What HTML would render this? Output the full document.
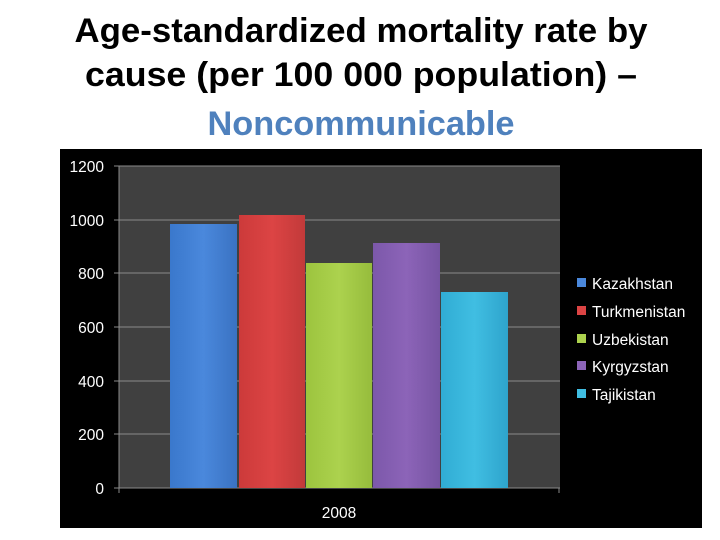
<!DOCTYPE html>
<html><head><style>body{margin:0;background:#fff}svg{display:block}</style></head><body>
<svg width="720" height="540" xmlns="http://www.w3.org/2000/svg" font-family="Liberation Sans, sans-serif">
<defs>
<linearGradient id="b" x1="0" x2="1"><stop offset="0" stop-color="#3a78cc"/><stop offset=".5" stop-color="#4a88dc"/><stop offset="1" stop-color="#3a72c2"/></linearGradient>
<linearGradient id="r" x1="0" x2="1"><stop offset="0" stop-color="#cc3a3a"/><stop offset=".5" stop-color="#dc4444"/><stop offset="1" stop-color="#c23a3a"/></linearGradient>
<linearGradient id="g" x1="0" x2="1"><stop offset="0" stop-color="#9cc43e"/><stop offset=".5" stop-color="#acd24e"/><stop offset="1" stop-color="#96bc3c"/></linearGradient>
<linearGradient id="p" x1="0" x2="1"><stop offset="0" stop-color="#7c58aa"/><stop offset=".5" stop-color="#8c64b8"/><stop offset="1" stop-color="#7654a2"/></linearGradient>
<linearGradient id="c" x1="0" x2="1"><stop offset="0" stop-color="#30acd4"/><stop offset=".5" stop-color="#40bee2"/><stop offset="1" stop-color="#2ea4cc"/></linearGradient>
</defs>
<g font-weight="bold" font-size="34" text-anchor="middle">
<text x="361" y="42" textLength="573" lengthAdjust="spacingAndGlyphs">Age-standardized mortality rate by</text>
<text x="361" y="86" textLength="552" lengthAdjust="spacingAndGlyphs">cause (per 100 000 population) –</text>
<text x="361" y="135" fill="#4f81bd" textLength="307" lengthAdjust="spacingAndGlyphs">Noncommunicable</text>
</g>
<rect x="60" y="149" width="642" height="379" fill="#000"/>
<rect x="119" y="166" width="441" height="322" fill="#404040"/>
<g stroke="#8a8a8a" stroke-width="1">
<line x1="114" y1="166" x2="560" y2="166"/><line x1="114" y1="220" x2="560" y2="220"/><line x1="114" y1="273" x2="560" y2="273"/><line x1="114" y1="327" x2="560" y2="327"/><line x1="114" y1="381" x2="560" y2="381"/><line x1="114" y1="434" x2="560" y2="434"/><line x1="114" y1="488" x2="560" y2="488"/>
<line x1="119" y1="166" x2="119" y2="493"/><line x1="559" y1="488" x2="559" y2="493"/>
</g>
<rect x="170" y="224" width="67" height="264" fill="url(#b)"/>
<rect x="239" y="215" width="66" height="273" fill="url(#r)"/>
<rect x="306" y="263" width="66" height="225" fill="url(#g)"/>
<rect x="373" y="243" width="67" height="245" fill="url(#p)"/>
<rect x="441" y="292" width="67" height="196" fill="url(#c)"/>
<g fill="#fff" font-size="15.5" text-anchor="end">
<text x="104" y="172">1200</text><text x="104" y="226">1000</text><text x="104" y="279">800</text><text x="104" y="333">600</text><text x="104" y="387">400</text><text x="104" y="440">200</text><text x="104" y="494">0</text>
</g>
<text x="339" y="518" fill="#fff" font-size="15.5" text-anchor="middle">2008</text>
<g font-size="15.5" fill="#fff">
<rect x="577" y="278" width="9" height="9" fill="#4a88dc"/><text x="592" y="289">Kazakhstan</text>
<rect x="577" y="306" width="9" height="9" fill="#dc4444"/><text x="592" y="317">Turkmenistan</text>
<rect x="577" y="334" width="9" height="9" fill="#acd24e"/><text x="592" y="345">Uzbekistan</text>
<rect x="577" y="361" width="9" height="9" fill="#8c64b8"/><text x="592" y="372">Kyrgyzstan</text>
<rect x="577" y="389" width="9" height="9" fill="#40bee2"/><text x="592" y="400">Tajikistan</text>
</g>
</svg>
</body></html>
